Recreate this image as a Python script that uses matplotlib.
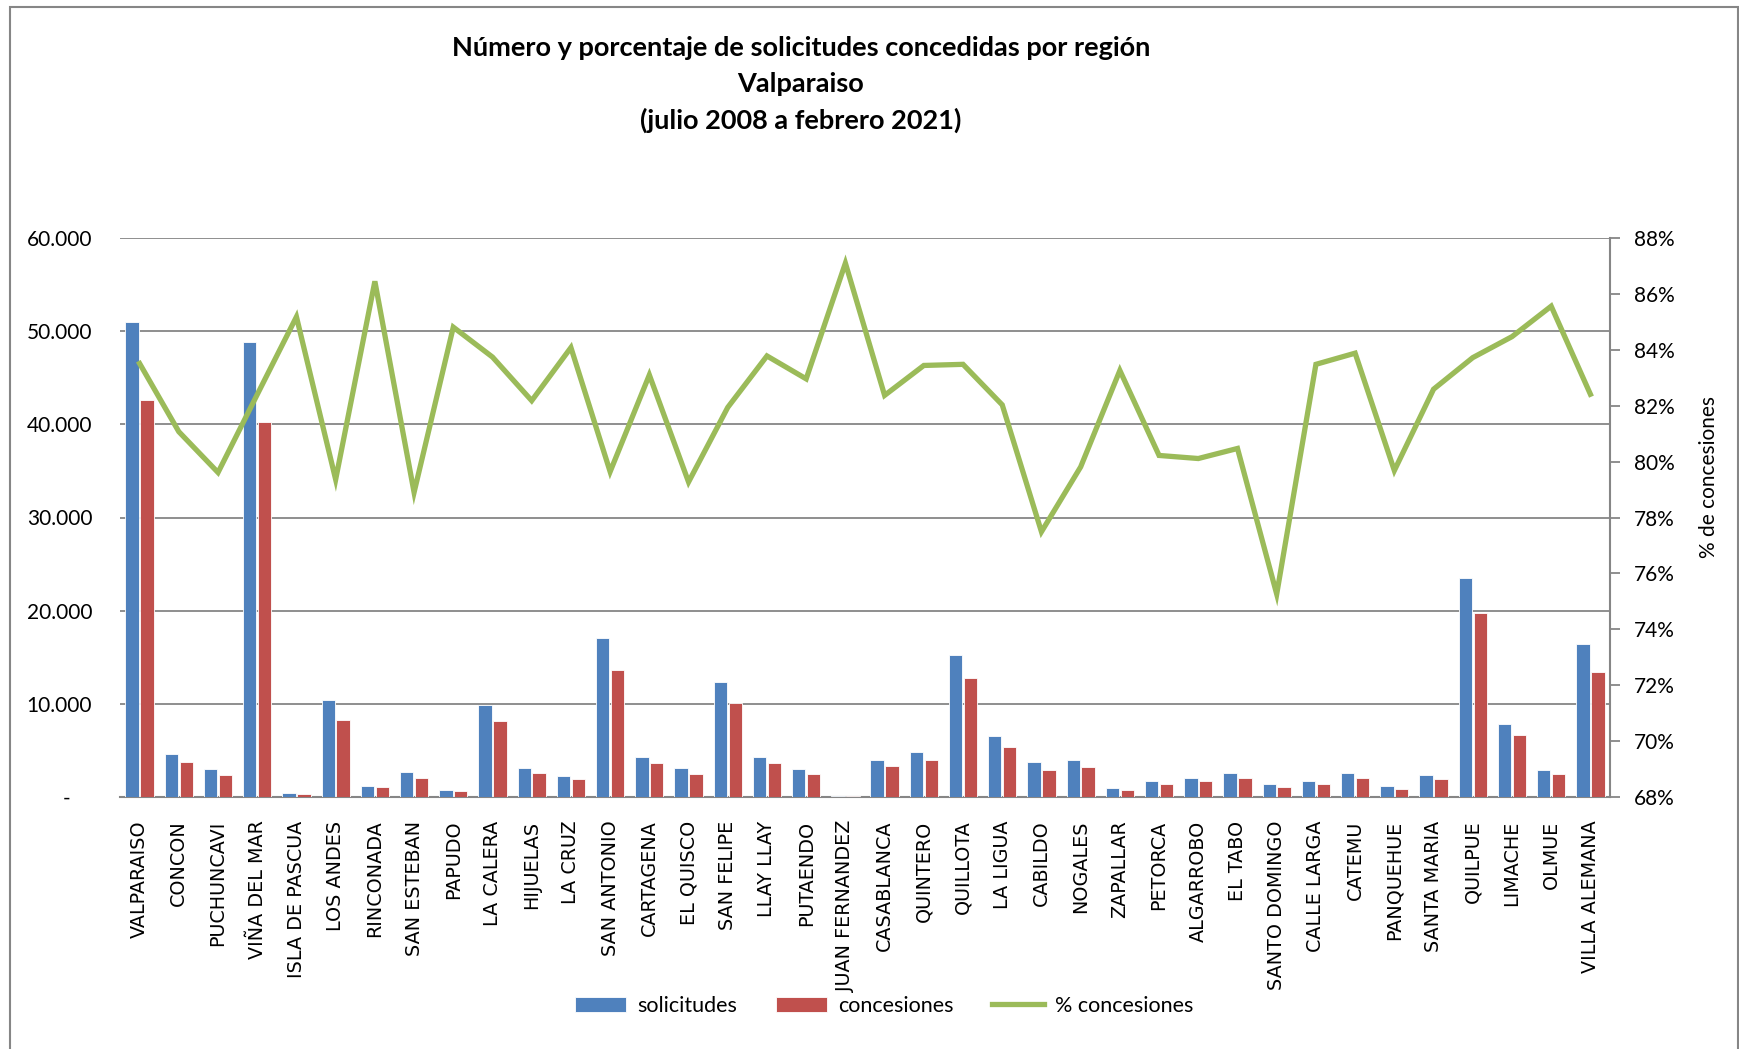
import matplotlib
matplotlib.use("Agg")
import numpy as np
import matplotlib.pyplot as plt
from matplotlib.ticker import FuncFormatter, MultipleLocator
from matplotlib.patches import Rectangle

# datos por comuna
comunas = ["VALPARAISO", "CONCON", "PUCHUNCAVI", "VIÑA DEL MAR", "ISLA DE PASCUA",
           "LOS ANDES", "RINCONADA", "SAN ESTEBAN", "PAPUDO", "LA CALERA",
           "HIJUELAS", "LA CRUZ", "SAN ANTONIO", "CARTAGENA", "EL QUISCO",
           "SAN FELIPE", "LLAY LLAY", "PUTAENDO", "JUAN FERNANDEZ", "CASABLANCA",
           "QUINTERO", "QUILLOTA", "LA LIGUA", "CABILDO", "NOGALES",
           "ZAPALLAR", "PETORCA", "ALGARROBO", "EL TABO", "SANTO DOMINGO",
           "CALLE LARGA", "CATEMU", "PANQUEHUE", "SANTA MARIA", "QUILPUE",
           "LIMACHE", "OLMUE", "VILLA ALEMANA"]

solicitudes = [50970, 4600, 3000, 48790, 410,
               10430, 1190, 2630, 780, 9860,
               3120, 2220, 17080, 4310, 3160,
               12320, 4310, 3000, 120, 3980,
               4800, 15240, 6570, 3780, 4020,
               990, 1770, 2090, 2590, 1440,
               1680, 2550, 1150, 2380, 23490,
               7800, 2870, 16430]

concesiones = [42630, 3740, 2380, 40200, 330,
               8250, 1030, 2090, 660, 8210,
               2550, 1890, 13590, 3610, 2460,
               10060, 3610, 2500, 100, 3290,
               3980, 12730, 5380, 2920, 3200,
               780, 1400, 1680, 2090, 1070,
               1440, 2090, 860, 1930, 19710,
               6610, 2420, 13470]

pct_concesiones = [83.51, 81.07, 79.61, 82.40, 85.18,
                   79.36, 86.45, 78.90, 84.81, 83.74,
                   82.18, 84.08, 79.64, 83.10, 79.27,
                   81.94, 83.78, 82.96, 87.10, 82.37,
                   83.44, 83.48, 82.03, 77.49, 79.81,
                   83.26, 80.22, 80.11, 80.47, 75.26,
                   83.48, 83.88, 79.68, 82.59, 83.72,
                   84.47, 85.56, 82.41]

azul = "#4F81BD"
rojo = "#C0504D"
verde = "#9BBB59"
gris = "#868686"

plt.rcParams['font.family'] = ['Lato', 'DejaVu Sans']

W, H = 1740, 1049
fig = plt.figure(figsize=(W / 100, H / 100), dpi=100)
ax = fig.add_axes([120 / W, 1 - 797 / H, (1610 - 120) / W, (797 - 238) / H])

x = np.arange(len(comunas))
ax.bar(x - 0.19, solicitudes, width=0.34, color=azul, edgecolor="white", linewidth=0.6,
       label="solicitudes", zorder=3)
ax.bar(x + 0.19, concesiones, width=0.34, color=rojo, edgecolor="white", linewidth=0.6,
       label="concesiones", zorder=3)

ax.set_xlim(-0.5, len(comunas) - 0.5)
ax.set_ylim(0, 60000)
ax.yaxis.set_major_locator(MultipleLocator(10000))


def miles(v, pos):
    if v == 0:
        return "-    "
    return "{:,.0f}".format(v).replace(",", ".")


ax.yaxis.set_major_formatter(FuncFormatter(miles))
ax.grid(axis="y", color=gris, linewidth=1.3, zorder=0)
ax.set_axisbelow(True)
ax.tick_params(axis="y", length=0, pad=20, labelsize=15, labelcolor="black")
ax.set_xticks(x)
ax.set_xticklabels(comunas, rotation=90, fontsize=13.8, family="DejaVu Sans")
ax.tick_params(axis="x", length=0, pad=17)
for s in ["top", "left", "right"]:
    ax.spines[s].set_visible(False)
ax.spines["bottom"].set_color(gris)
ax.spines["bottom"].set_linewidth(1.5)

# eje secundario
ax2 = ax.twinx()
ax2.plot(x, pct_concesiones, color=verde, linewidth=3.8, label="% concesiones",
         solid_joinstyle="miter", zorder=4)
ax2.set_ylim(68, 88)
ax2.yaxis.set_major_locator(MultipleLocator(2))
ax2.yaxis.set_major_formatter(FuncFormatter(lambda v, p: "{:.0f}%".format(v)))
ax2.tick_params(axis="y", length=7, width=1.3, color=gris, pad=10, labelsize=15)
for s in ["top", "left", "bottom"]:
    ax2.spines[s].set_visible(False)
ax2.spines["right"].set_color(gris)
ax2.spines["right"].set_linewidth(1.5)

fig.text(1709 / W, 1 - 477 / H, "% de concesiones", rotation=90, fontsize=15,
         ha="center", va="center")

# titulo
tx = 801 / W
fig.text(tx, 1 - 48 / H, "Número y porcentaje de solicitudes concedidas por región",
         fontsize=19.5, fontweight="bold", ha="center", va="center")
fig.text(tx, 1 - 84 / H, "Valparaiso", fontsize=19.5, fontweight="bold",
         ha="center", va="center")
fig.text(tx, 1 - 120 / H, "(julio 2008 a febrero 2021)", fontsize=19.5, fontweight="bold",
         ha="center", va="center")

# leyenda
h1, l1 = ax.get_legend_handles_labels()
h2, l2 = ax2.get_legend_handles_labels()
fig.legend(h1 + h2, l1 + l2, loc="center", bbox_to_anchor=(884 / W, 1 - 1006 / H),
           ncol=3, frameon=False, fontsize=15.5, handlelength=2.4, handleheight=0.7,
           handletextpad=0.5, columnspacing=1.8)

# borde del grafico (sin linea inferior visible)
fig.patches.append(Rectangle((10 / W, -10 / H), (1738 - 10) / W, (1042 + 10) / H,
                             transform=fig.transFigure, fill=False,
                             edgecolor=gris, linewidth=1.5))

fig.savefig("out.png", dpi=100)
